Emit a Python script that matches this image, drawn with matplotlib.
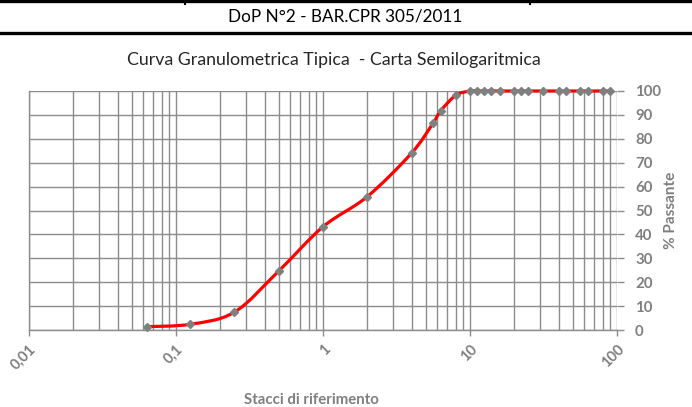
import numpy as np
import matplotlib
matplotlib.use("Agg")
import matplotlib.pyplot as plt
from matplotlib.path import Path
from matplotlib.patches import PathPatch
from matplotlib.lines import Line2D
from matplotlib.ticker import FixedLocator, LogLocator, NullFormatter

plt.rcParams['font.family'] = ['Lato', 'DejaVu Sans']

# Sieve openings (mm) and cumulative passing (%)
stacci = [0.063, 0.125, 0.25, 0.5, 1, 2, 4, 5.6, 6.3, 8,
          10, 11.2, 12.5, 14, 16, 20, 22.4, 25, 31.5, 40, 45, 56, 63, 80, 90]
passante = [1.4, 2.4, 7.5, 24.7, 43.2, 55.8, 74.0, 86.5, 91.6, 98.2,
            100, 100, 100, 100, 100, 100, 100, 100, 100, 100, 100, 100, 100, 100, 100]

x_ticks = [0.01, 0.1, 1, 10, 100]
x_labels = ['0,01', '0,1', '1', '10', '100']
y_ticks = list(range(0, 101, 10))

header = 'DoP N°2 - BAR.CPR 305/2011'
title = 'Curva Granulometrica Tipica  - Carta Semilogaritmica'
xlabel = 'Stacci di riferimento'
ylabel = '% Passante'

GRID = '#8c8c8c'
TXT = '#7f7f7f'


def smooth_path(xs, ys):
    """Cubic bezier through the points, computed in log-x space."""
    lx = np.log10(xs)
    pts = np.column_stack([lx, ys])
    n = len(pts)
    verts = [pts[0]]
    codes = [Path.MOVETO]
    for i in range(n - 1):
        p_prev = pts[max(i - 1, 0)]
        p0 = pts[i]
        p1 = pts[i + 1]
        p_next = pts[min(i + 2, n - 1)]
        c1 = p0 + (p1 - p_prev) / 6.0
        c2 = p1 - (p_next - p0) / 6.0
        verts += [c1, c2, p1]
        codes += [Path.CURVE4] * 3
    verts = np.array(verts)
    verts[:, 0] = 10 ** verts[:, 0]
    return Path(verts, codes)


fig = plt.figure(figsize=(6.92, 4.07), dpi=100)

# header rules
fig.add_artist(Line2D([0, 1], [1 - 1 / 407, 1 - 1 / 407], color='black', lw=2.4,
                      transform=fig.transFigure))
fig.add_artist(Line2D([0, 1], [1 - 33 / 407, 1 - 33 / 407], color='black', lw=2.4,
                      transform=fig.transFigure))
for xp in (185, 530):
    fig.add_artist(Line2D([xp / 692, xp / 692], [1, 1 - 4 / 407], color='black', lw=1.5,
                          transform=fig.transFigure))
fig.text(345 / 692, 1 - 16 / 407, header, ha='center', va='center', fontsize=12.3, color='black')
fig.text(334 / 692, 1 - 60 / 407, title, ha='center', va='center', fontsize=12.8, color='#262626')

ax = fig.add_axes([29 / 692, (407 - 330) / 407, (617 - 29) / 692, (330 - 91) / 407])
ax.set_xscale('log')
ax.set_xlim(0.01, 100)
ax.set_ylim(0, 100)

# grid
ax.xaxis.set_major_locator(FixedLocator(x_ticks))
ax.xaxis.set_minor_locator(LogLocator(base=10, subs=np.arange(2, 10)))
ax.xaxis.set_minor_formatter(NullFormatter())
ax.set_yticks(y_ticks)
ax.grid(True, which='both', axis='x', color=GRID, lw=1.0)
ax.grid(True, which='major', axis='y', color=GRID, lw=1.0)
ax.set_axisbelow(True)

for side in ('top', 'right'):
    ax.spines[side].set_visible(False)
for side in ('left', 'bottom'):
    ax.spines[side].set_color(GRID)
    ax.spines[side].set_linewidth(1.0)

ax.yaxis.tick_right()
ax.tick_params(axis='y', which='major', length=5, width=1.0, color=GRID, pad=8,
               labelsize=10.8, labelcolor=TXT)
for lab in ax.get_yticklabels():
    lab.set_fontweight('bold')
ax.tick_params(axis='x', which='major', length=4, width=1.0, color=GRID, pad=5)
ax.tick_params(axis='x', which='minor', length=0)
ax.set_xticklabels(x_labels, rotation=45, ha='right', va='top', rotation_mode='anchor',
                   fontsize=10.5, color=TXT)
for lab in ax.get_xticklabels():
    lab.set_fontweight('bold')

ax.yaxis.set_label_position('right')
ax.set_ylabel(ylabel, fontsize=11, fontweight='bold', color=TXT, labelpad=2)
fig.text(311 / 692, 1 - 400 / 407, xlabel, ha='center', va='center', fontsize=10.8,
         fontweight='bold', color=TXT)

# smoothed curve with sieve markers on top
curve = PathPatch(smooth_path(np.array(stacci, float), np.array(passante, float)),
                  facecolor='none', edgecolor='#ff0000', lw=2.3, zorder=3, clip_on=False)
ax.add_patch(curve)
ax.plot(stacci, passante, linestyle='none', marker='D', ms=4.2, color='#808080',
        zorder=4, clip_on=False)

fig.savefig('out.png', dpi=100)
